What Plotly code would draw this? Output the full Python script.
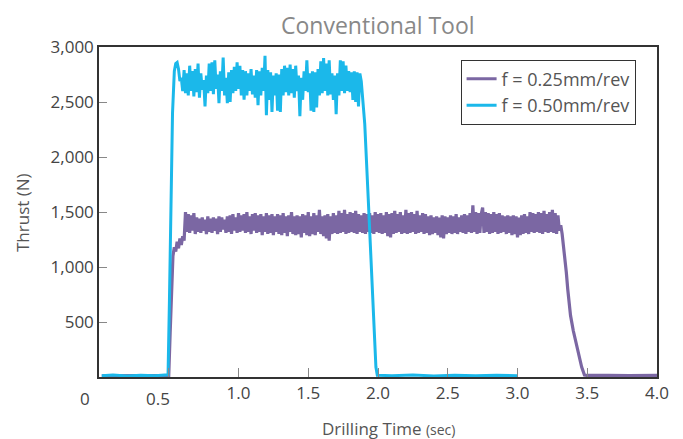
import plotly.graph_objects as go

# ---------------- data ----------------
# f = 0.50 mm/rev (cyan)
cyan_lead_t = [0.02, 0.10, 0.20, 0.30, 0.40, 0.49, 0.495, 0.505, 0.515, 0.527, 0.54, 0.55, 0.56, 0.57, 0.58]
cyan_lead_v = [12, 18, 10, 16, 12, 14, 20, 700, 1450, 2400, 2780, 2850, 2860, 2800, 2690]
cyan_plateau_t0 = 0.59
cyan_plateau_dt = 0.01
cyan_plateau_v = [
    2720, 2600, 2790, 2580, 2760, 2560, 2830, 2600, 2780, 2550,
    2800, 2590, 2850, 2540, 2760, 2610, 2700, 2460, 2740, 2580,
    2850, 2600, 2860, 2570, 2880, 2620, 2750, 2490, 2780, 2600,
    2905, 2560, 2720, 2490, 2770, 2500, 2790, 2580, 2820, 2600,
    2860, 2620, 2830, 2560, 2790, 2520, 2780, 2560, 2760, 2600,
    2800, 2570, 2740, 2540, 2790, 2470, 2780, 2560, 2810, 2600,
    2920, 2380, 2790, 2520, 2770, 2410, 2740, 2560, 2760, 2420,
    2750, 2410, 2800, 2560, 2830, 2590, 2810, 2560, 2840, 2580,
    2800, 2540, 2830, 2600, 2740, 2370, 2720, 2520, 2780, 2600,
    2880, 2590, 2760, 2420, 2780, 2410, 2770, 2450, 2800, 2560,
    2870, 2580, 2900, 2600, 2850, 2560, 2880, 2570, 2760, 2520,
    2740, 2390, 2760, 2560, 2880, 2600, 2870, 2580, 2830, 2600,
    2780, 2590, 2770, 2520, 2780, 2500, 2770, 2460, 2760, 2690,
]
cyan_tail_t = [1.89, 1.905, 1.93, 1.95, 1.97, 1.985, 1.995, 2.10, 2.25, 2.40, 2.55, 2.70, 2.85, 3.00]
cyan_tail_v = [2500, 2300, 1620, 1080, 460, 90, 16, 12, 18, 10, 16, 12, 17, 12]

# f = 0.25 mm/rev (purple)
purple_lead_t = [0.02, 0.15, 0.30, 0.45, 0.49, 0.50, 0.51, 0.52, 0.53, 0.54, 0.55, 0.56, 0.57, 0.58, 0.59, 0.60, 0.61]
purple_lead_v = [10, 12, 10, 12, 10, 14, 400, 800, 1100, 1180, 1140, 1230, 1170, 1260, 1200, 1280, 1240]
purple_plateau_t0 = 0.62
purple_plateau_dt = 0.01
purple_plateau_v = [
    1500, 1320, 1480, 1310, 1470, 1330, 1490, 1300, 1450, 1320,
    1440, 1310, 1450, 1330, 1430, 1300, 1460, 1320, 1440, 1310,
    1450, 1330, 1440, 1300, 1460, 1320, 1450, 1340, 1430, 1310,
    1460, 1320, 1470, 1300, 1480, 1330, 1450, 1310, 1490, 1320,
    1470, 1330, 1480, 1310, 1500, 1320, 1460, 1300, 1480, 1330,
    1490, 1310, 1470, 1320, 1480, 1290, 1460, 1320, 1490, 1300,
    1470, 1310, 1480, 1290, 1460, 1320, 1480, 1300, 1470, 1290,
    1490, 1310, 1460, 1280, 1470, 1320, 1500, 1300, 1460, 1290,
    1470, 1300, 1460, 1270, 1480, 1310, 1470, 1290, 1500, 1280,
    1460, 1300, 1490, 1290, 1470, 1320, 1520, 1300, 1460, 1280,
    1470, 1260, 1480, 1240, 1460, 1300, 1490, 1310, 1470, 1300,
    1510, 1310, 1490, 1320, 1520, 1300, 1480, 1310, 1500, 1320,
    1490, 1310, 1510, 1300, 1480, 1320, 1470, 1310, 1490, 1300,
    1480, 1320, 1490, 1310, 1470, 1300, 1500, 1320, 1480, 1310,
    1490, 1300, 1470, 1310, 1500, 1280, 1480, 1270, 1490, 1300,
    1510, 1310, 1480, 1320, 1500, 1300, 1470, 1310, 1520, 1300,
    1490, 1310, 1500, 1320, 1480, 1300, 1510, 1310, 1470, 1320,
    1490, 1300, 1480, 1310, 1460, 1290, 1470, 1300, 1450, 1310,
    1460, 1290, 1450, 1270, 1470, 1260, 1460, 1300, 1450, 1310,
    1470, 1300, 1460, 1310, 1480, 1300, 1450, 1320, 1470, 1310,
    1480, 1300, 1470, 1320, 1490, 1310, 1560, 1320, 1500, 1300,
    1490, 1310, 1480, 1540, 1310, 1500, 1320, 1490, 1300, 1480,
    1310, 1500, 1320, 1480, 1300, 1490, 1310, 1470, 1320, 1460,
    1300, 1470, 1310, 1460, 1290, 1470, 1300, 1460, 1270, 1450,
    1290, 1470, 1300, 1480, 1310, 1460, 1300, 1500, 1320, 1490,
    1310, 1480, 1320, 1500, 1310, 1490, 1300, 1510, 1320, 1480,
    1310, 1500, 1320, 1520, 1310, 1490, 1300, 1470, 1330,
]
purple_tail_t = [3.31, 3.32, 3.33, 3.34, 3.35, 3.36, 3.37, 3.38, 3.40, 3.43, 3.46, 3.48, 3.50, 3.65, 3.80, 4.00]
purple_tail_v = [1380, 1300, 1200, 1090, 950, 800, 670, 560, 420, 250, 90, 18, 14, 16, 12, 14]

x_tick_vals = [0.5, 1.0, 1.5, 2.0, 2.5, 3.0, 3.5, 4.0]
x_tick_text = ["", "1.0", "1.5", "2.0", "2.5", "3.0", "3.5", "4.0"]
y_tick_vals = [500, 1000, 1500, 2000, 2500, 3000]

series_names = ["f = 0.25mm/rev", "f = 0.50mm/rev"]
series_colors = ["#7b67a3", "#1bb8ea"]

# ---------------- assemble ----------------
def assemble(lead_t, lead_v, t0, dt, plat_v, tail_t, tail_v):
    plat_t = [round(t0 + i * dt, 4) for i in range(len(plat_v))]
    return lead_t + plat_t + tail_t, lead_v + plat_v + tail_v

purple_t, purple_v = assemble(purple_lead_t, purple_lead_v, purple_plateau_t0, purple_plateau_dt,
                              purple_plateau_v, purple_tail_t, purple_tail_v)
cyan_t, cyan_v = assemble(cyan_lead_t, cyan_lead_v, cyan_plateau_t0, cyan_plateau_dt,
                          cyan_plateau_v, cyan_tail_t, cyan_tail_v)

FONT = "Open Sans"
fig = go.Figure()
fig.add_trace(go.Scatter(x=purple_t, y=purple_v, mode="lines", name=series_names[0],
                         line=dict(color=series_colors[0], width=3.2)))
fig.add_trace(go.Scatter(x=cyan_t, y=cyan_v, mode="lines", name=series_names[1],
                         line=dict(color=series_colors[1], width=3)))

# page body has an 8px margin, so the figure is sized/offset to compensate
fig.update_layout(
    width=675, height=431,
    margin=dict(l=91, r=26, t=39, b=62),
    paper_bgcolor="white", plot_bgcolor="white",
    font=dict(family=FONT, size=16, color="#444"),
    showlegend=True,
    legend=dict(x=0.648, y=0.962, xanchor="left", yanchor="top",
                bordercolor="#333", borderwidth=1, bgcolor="white",
                font=dict(family=FONT, size=18, color="#555"), itemwidth=30,
                tracegroupgap=0),
)
fig.update_xaxes(range=[0, 4], tickvals=x_tick_vals, ticktext=x_tick_text,
                 ticks="inside", ticklen=9, tickcolor="#888", tickwidth=1,
                 showgrid=False, zeroline=False,
                 showline=True, linecolor="#333", linewidth=1.5, mirror=True,
                 tickfont=dict(family=FONT, size=17, color="#444"))
fig.update_yaxes(range=[0, 3000], tickvals=y_tick_vals, tickformat=",",
                 ticks="inside", ticklen=8, tickcolor="#888", tickwidth=1,
                 showgrid=False, zeroline=False,
                 showline=True, linecolor="#333", linewidth=1.5, mirror=True,
                 tickfont=dict(family=FONT, size=17, color="#444"))

annotations = [
    dict(text="Conventional Tool", x=0.5, y=1 + 22 / 330, xref="paper", yref="paper",
         xanchor="center", yanchor="middle", showarrow=False,
         font=dict(family=FONT, size=23, color="#888")),
    dict(text="0", x=0, y=0, xref="x", yref="y", xshift=-14, yshift=-21,
         showarrow=False, font=dict(family=FONT, size=17, color="#444")),
    dict(text="0.5", x=0.5, y=0, xref="x", yref="y", xshift=-11, yshift=-21,
         showarrow=False, font=dict(family=FONT, size=17, color="#444")),
    dict(text="Thrust (N)", textangle=-90, x=-0.138, y=0.5, xref="paper", yref="paper",
         xanchor="center", yanchor="middle", showarrow=False,
         font=dict(family=FONT, size=17, color="#555")),
    dict(text="Drilling Time <span style='font-size:14px'>(sec)</span>", x=0.519, y=-0.155,
         xref="paper", yref="paper", xanchor="center", yanchor="middle", showarrow=False,
         font=dict(family=FONT, size=17, color="#555")),
]
fig.update_layout(annotations=annotations)

fig.write_html("out.html")
